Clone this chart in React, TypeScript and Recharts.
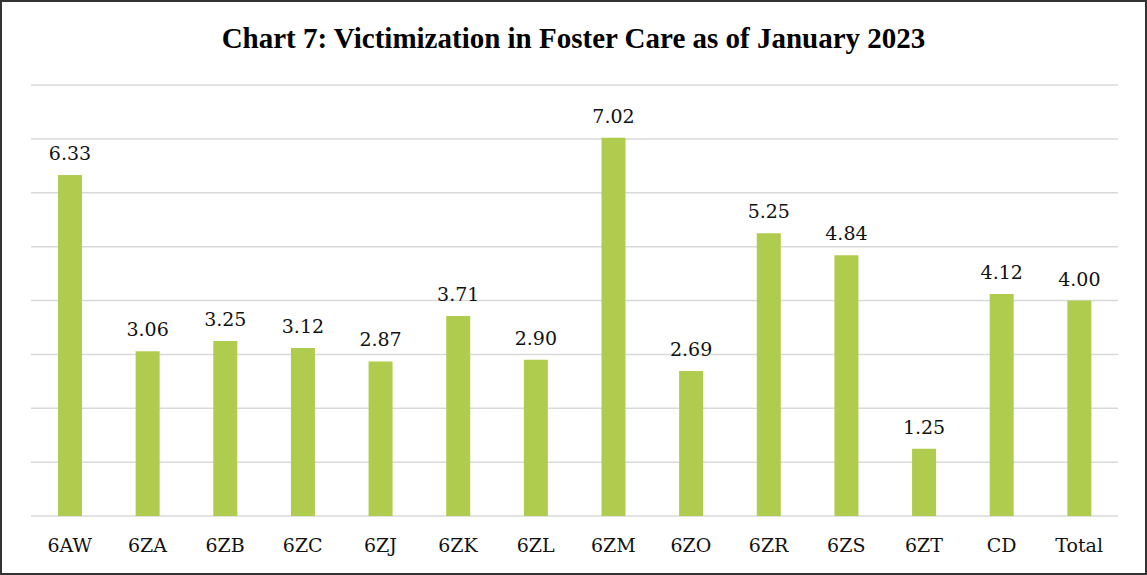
import { BarChart, Bar, XAxis, YAxis, CartesianGrid, LabelList } from "recharts";

const CATEGORIES = ["6AW", "6ZA", "6ZB", "6ZC", "6ZJ", "6ZK", "6ZL", "6ZM", "6ZO", "6ZR", "6ZS", "6ZT", "CD", "Total"];
const VALUES = [6.33, 3.06, 3.25, 3.12, 2.87, 3.71, 2.9, 7.02, 2.69, 5.25, 4.84, 1.25, 4.12, 4.0];
const Y_TICKS = [0, 1, 2, 3, 4, 5, 6, 7, 8];

const data = CATEGORIES.map((name, i) => ({ name, value: VALUES[i] }));

const FONT = '"Liberation Serif", "Times New Roman", serif';
// svg text only picks up DejaVu Serif here
const SVG_FONT = "DejaVu Serif";

const CategoryTick = (props: any) => {
  const { x, y, payload } = props;
  return (
    <text x={x} y={y + 28} textAnchor="middle" fontFamily={SVG_FONT} fontSize={19} fill="#111">
      {payload.value}
    </text>
  );
};

const ValueLabel = (props: any) => {
  const { x, y, width, value } = props;
  return (
    <text x={x + width / 2} y={y - 15} textAnchor="middle" fontFamily={SVG_FONT} fontSize={19} fill="#111">
      {Number(value).toFixed(2)}
    </text>
  );
};

export default function App() {
  return (
    <div
      style={{
        position: "absolute",
        top: 0,
        left: 0,
        width: 1147,
        height: 575,
        border: "2px solid #333",
        boxSizing: "border-box",
        background: "#fff",
        fontFamily: FONT,
      }}
    >
      <div
        style={{
          position: "absolute",
          top: 20,
          left: 0,
          width: "100%",
          textAlign: "center",
          fontSize: 29,
          fontWeight: "bold",
          color: "#000",
        }}
      >
        Chart 7: Victimization in Foster Care as of January 2023
      </div>
      <BarChart
        width={1143}
        height={571}
        data={data}
        margin={{ top: 83, right: 27, left: 29, bottom: 27 }}
      >
        <CartesianGrid vertical={false} stroke="#d9d9d9" strokeWidth={1.5} />
        <YAxis hide domain={[0, 8]} ticks={Y_TICKS} />
        <XAxis dataKey="name" axisLine={false} tickLine={false} height={30} tick={<CategoryTick />} />
        <Bar dataKey="value" fill="#b0cc4e" barSize={24} isAnimationActive={false}>
          <LabelList dataKey="value" content={<ValueLabel />} />
        </Bar>
      </BarChart>
    </div>
  );
}
